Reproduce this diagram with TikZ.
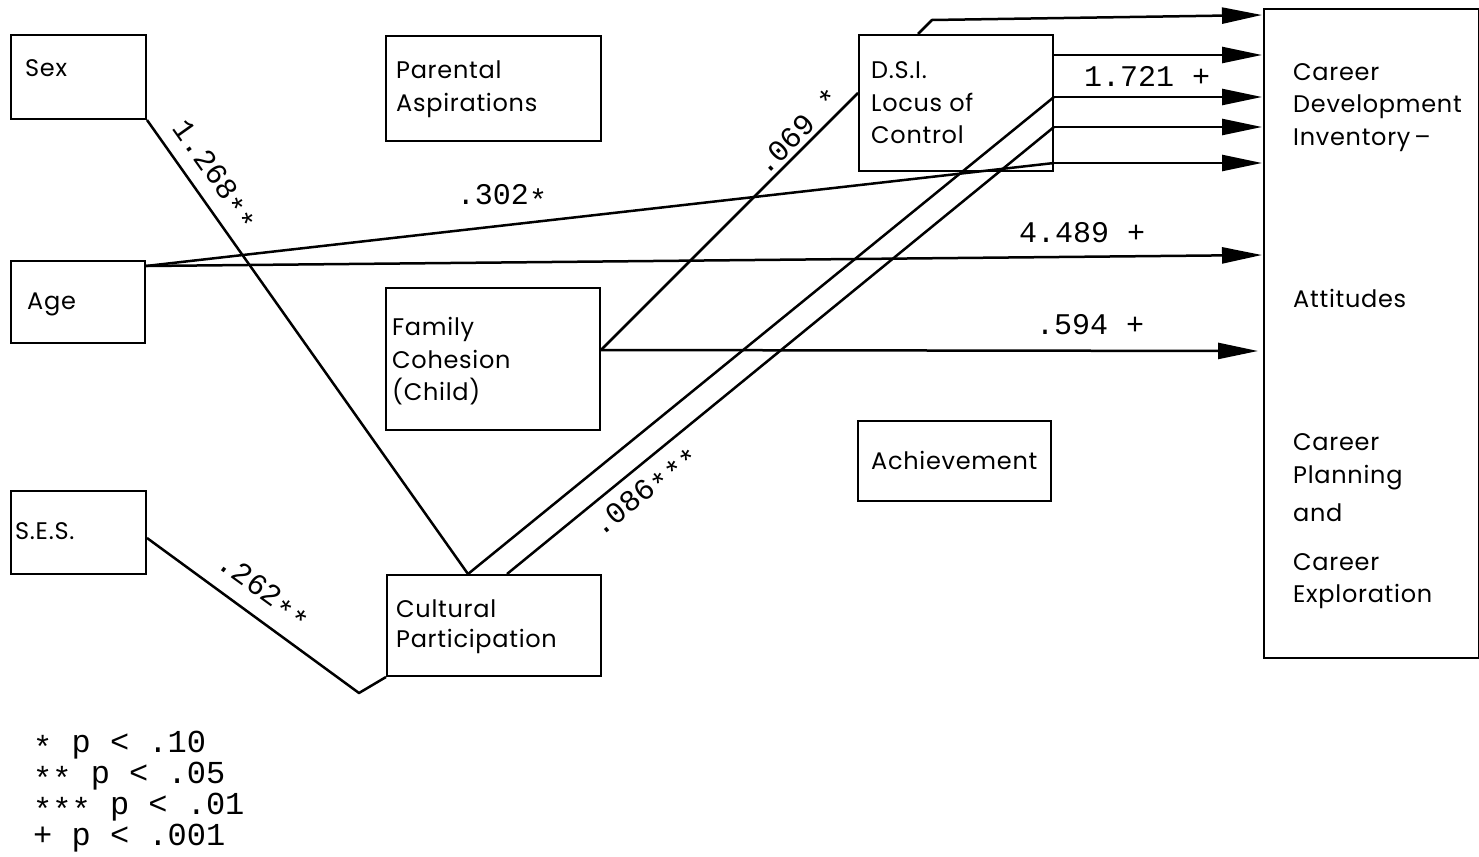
\documentclass[tikz,border=0pt]{standalone}
\usepackage{fontspec}
\usetikzlibrary{arrows.meta}
\newfontfamily\boxfont{Poppins}[LetterSpace=3]
\newfontfamily\numfont{Liberation Mono}
% asterisk set on the middle of the digits
\newcommand\midstar{\raisebox{-0.2em}{*}}

\begin{document}
\begin{tikzpicture}[x=1pt,y=-1pt,
  box/.style={draw, line width=2pt, inner sep=0pt, anchor=north west},
  txt/.style={font=\boxfont\fontsize{24}{30}\selectfont, anchor=base west, inner sep=0pt},
  num/.style={font=\numfont\fontsize{30}{32}\selectfont, inner sep=0pt},
  legend/.style={font=\numfont\fontsize{32}{34}\selectfont, anchor=base west, inner sep=0pt},
  link/.style={line width=2.5pt, line join=round},
  arr/.style={link, -{Triangle[length=40pt,width=16pt]}}
]
\useasboundingbox (0,0) rectangle (1479,856);

% boxes
\node[box, minimum width=135pt, minimum height=84pt]  (sex) at (10,34) {};
\node[box, minimum width=215pt, minimum height=105pt] (par) at (385,35) {};
\node[box, minimum width=194pt, minimum height=136pt] (dsi) at (858,34) {};
\node[box, minimum width=134pt, minimum height=82pt]  (age) at (10,260) {};
\node[box, minimum width=214pt, minimum height=142pt] (fc)  at (385,287) {};
\node[box, minimum width=135pt, minimum height=83pt]  (ses) at (10,490) {};
\node[box, minimum width=214pt, minimum height=101pt] (cp)  at (386,574) {};
\node[box, minimum width=193pt, minimum height=80pt]  (ach) at (857,420) {};
\node[box, minimum width=215pt, minimum height=649pt] (cdi) at (1263,8) {};

% box texts
\node[txt] (sexT) at (25,77) {Sex};
\node[txt] (parT1) at (396,79) {Parental};
\node[txt] (parT2) at (396,111) {Aspirations};
\node[txt] (dsiT1) at (871,79) {D.S.I.};
\node[txt] (dsiT2) at (871,111) {Locus of};
\node[txt] (dsiT3) at (871,143) {Control};
\node[txt] (ageT) at (27,309) {Age};
\node[txt] (fcT1) at (392,335) {Family};
\node[txt] (fcT2) at (392,368) {Cohesion};
\node[txt] (fcT3) at (392,400) {(Child)};
\node[txt] (sesT) at (15,539) {S.E.S.};
\node[txt] (cpT1) at (396,617) {Cultural};
\node[txt] (cpT2) at (396,647) {Participation};
\node[txt] (achT) at (871,469) {Achievement};
\node[txt] (cdiT1) at (1293,81) {Career};
\node[txt] (cdiT2) at (1293,113) {Development};
\node[txt] (cdiT3) at (1293,145) {Inventory\,–};
\node[txt] (cdiT4) at (1293,307) {Attitudes};
\node[txt] (cdiT5) at (1293,450) {Career};
\node[txt] (cdiT6) at (1293,483) {Planning};
\node[txt] (cdiT7) at (1293,521) {and};
\node[txt] (cdiT8) at (1293,570) {Career};
\node[txt] (cdiT9) at (1293,602) {Exploration};

% junction points (yshift is upward, so negative values move down)
\coordinate (cpA) at ([xshift=82pt]cp.north west);
\coordinate (cpB) at ([xshift=121pt]cp.north west);
\coordinate (ageO) at ([yshift=-6pt]age.north east);
\coordinate (fcO) at ([yshift=-63pt]fc.north east);
\coordinate (sesO) at ([yshift=-48pt]ses.north east);
\coordinate (vee) at (359,693);
\coordinate (dsiTop) at ([xshift=60pt]dsi.north west);
\coordinate (dsiKnee) at (932,20);
\coordinate (dsiIn) at ([yshift=-59pt]dsi.north west);
\coordinate (r1) at ([yshift=-21pt]dsi.north east);
\coordinate (r2) at ([yshift=-63pt]dsi.north east);
\coordinate (r3) at ([yshift=-93pt]dsi.north east);
\coordinate (r4) at ([yshift=-129pt]dsi.north east);
\coordinate (t0) at (1262,15);
\coordinate (t1) at (1262,55);
\coordinate (t2) at (1262,97);
\coordinate (t3) at (1262,127);
\coordinate (t4) at (1262,163);
\coordinate (t5) at (1262,255);
\coordinate (t6) at (1258,351);

% paths into the career box
\draw[arr] (dsiTop) -- (dsiKnee) -- (t0);
\draw[arr] (r1) -- (t1);
\draw[link] (cpA) -- (r2);
\draw[arr] (r2) -- (t2);
\draw[link] (cpB) -- (r3);
\draw[arr] (r3) -- (t3);
\draw[link] (ageO) -- (r4);
\draw[arr] (r4) -- (t4);
\draw[arr] (ageO) -- (t5);
\draw[arr] (fcO) -- (t6);
\draw[link] (fcO) -- (dsiIn);

% paths into cultural participation
\draw[link] (sex.south east) -- (cpA);
\draw[link] (sesO) -- (vee) -- (cp.south west);

% coefficients
\node[num, rotate=-54.6] (b1) at (214,176) {1.268\midstar\midstar};
\node[num, rotate=-35.9] (b2) at (263,592) {.262\midstar\midstar};
\node[num, rotate=39.5] (b3) at (646,492) {.086\midstar\midstar\midstar};
\node[num, rotate=44.9] (b4) at (797,131) {.069 *};
\node[num] (b5) at (502,197) {.302\midstar};
\node[num] (b6) at (1147,76) {1.721 +};
\node[num] (b7) at (1082,233) {4.489 +};
\node[num] (b8) at (1090,325) {.594 +};

% significance legend
\node[legend] (l1) at (33,752) {\midstar{} p < .10};
\node[legend] (l2) at (33,783) {\midstar\midstar{} p < .05};
\node[legend] (l3) at (33,814) {\midstar\midstar\midstar{} p < .01};
\node[legend] (l4) at (33,845) {+ p < .001};
\end{tikzpicture}
\end{document}
